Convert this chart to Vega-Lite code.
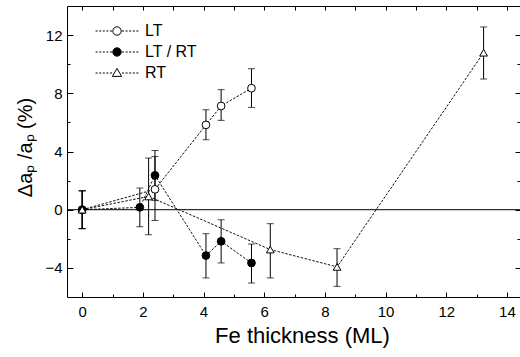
{
  "$schema": "https://vega.github.io/schema/vega-lite/v6.json",
  "width": 453,
  "height": 291,
  "autosize": {"type": "none"},
  "padding": {"left": 67, "top": 6, "right": 0, "bottom": 60},
  "config": {
    "view": {"stroke": "black", "strokeWidth": 1},
    "font": "Liberation Sans",
    "axis": {
      "domain": false, "grid": false, "tickColor": "black", "tickWidth": 1,
      "labelColor": "black", "titleColor": "black",
      "labelFont": "Liberation Sans", "titleFont": "Liberation Sans",
      "labelFontSize": 15, "titleFontSize": 22, "titleFontWeight": "normal"
    }
  },
  "data": {
    "values": [
      {"s": "LT", "x": 0, "y": 0, "lo": -1.3, "hi": 1.3},
      {"s": "LT", "x": 2.4, "y": 1.4, "lo": -0.74, "hi": 3.66},
      {"s": "LT", "x": 4.08, "y": 5.83, "lo": 4.81, "hi": 6.87},
      {"s": "LT", "x": 4.58, "y": 7.13, "lo": 6.14, "hi": 8.25},
      {"s": "LT", "x": 5.58, "y": 8.35, "lo": 7.03, "hi": 9.69},
      {"s": "LT / RT", "x": 0, "y": 0, "lo": -1.3, "hi": 1.3},
      {"s": "LT / RT", "x": 1.9, "y": 0.16, "lo": -1.17, "hi": 1.49},
      {"s": "LT / RT", "x": 2.4, "y": 2.36, "lo": 0.64, "hi": 4.07},
      {"s": "LT / RT", "x": 4.08, "y": -3.15, "lo": -4.69, "hi": -1.65},
      {"s": "LT / RT", "x": 4.58, "y": -2.17, "lo": -3.66, "hi": -0.69},
      {"s": "LT / RT", "x": 5.58, "y": -3.66, "lo": -5.04, "hi": -2.36},
      {"s": "RT", "x": 0, "y": 0, "lo": -1.3, "hi": 1.3},
      {"s": "RT", "x": 2.19, "y": 0.91, "lo": -1.72, "hi": 3.55},
      {"s": "RT", "x": 6.2, "y": -2.74, "lo": -4.69, "hi": -0.96},
      {"s": "RT", "x": 8.4, "y": -3.93, "lo": -5.27, "hi": -2.68},
      {"s": "RT", "x": 13.23, "y": 10.79, "lo": 8.98, "hi": 12.56}
    ]
  },
  "resolve": {
    "scale": {"shape": "independent", "fill": "independent"},
    "axis": {"x": "independent", "y": "independent"}
  },
  "layer": [
    {
      "data": {"values": [{"zero": 0}]},
      "mark": {"type": "rule", "color": "black", "strokeWidth": 1},
      "encoding": {
        "y": {"field": "zero", "type": "quantitative", "scale": {"domain": [-6, 14], "nice": false, "zero": false}, "axis": null}
      }
    },
    {
      "mark": {"type": "line", "strokeDash": [2.5, 1.5], "strokeWidth": 1, "color": "#111"},
      "encoding": {
        "x": {"field": "x", "type": "quantitative", "scale": {"domain": [-0.5, 14.43], "nice": false, "zero": false},
              "axis": {"orient": "bottom", "values": [0, 2, 4, 6, 8, 10, 12, 14], "tickSize": -5, "labelPadding": 12, "title": "Fe thickness (ML)", "titlePadding": 6, "titleX": 235, "format": "d"}},
        "y": {"field": "y", "type": "quantitative", "scale": {"domain": [-6, 14], "nice": false, "zero": false},
              "axis": {"orient": "left", "values": [-4, 0, 4, 8, 12], "tickSize": -6, "labelPadding": 11, "title": "Δaₚ /aₚ (%)", "titleFontSize": 20, "titlePadding": 9, "titleY": 141, "format": "d"}},
        "detail": {"field": "s"}
      }
    },
    {
      "mark": {"type": "errorbar", "color": "black", "thickness": 1, "ticks": {"size": 7, "color": "black"}, "rule": {"color": "black"}},
      "encoding": {
        "x": {"field": "x", "type": "quantitative", "axis": null},
        "y": {"field": "lo", "type": "quantitative", "axis": null, "title": null},
        "y2": {"field": "hi"}
      }
    },
    {
      "mark": {"type": "point", "filled": true, "stroke": "black", "strokeWidth": 1, "size": 60, "opacity": 1},
      "encoding": {
        "x": {"field": "x", "type": "quantitative",
              "axis": {"orient": "top", "values": [0,1,2,3,4,5,6,7,8,9,10,11,12,13,14], "tickSize": -4, "labels": false, "title": null}},
        "y": {"field": "y", "type": "quantitative",
              "axis": {"orient": "right", "values": [-4, 0, 4, 8, 12], "tickSize": -5, "labels": false, "title": null}},
        "shape": {"field": "s", "type": "nominal", "scale": {"domain": ["LT", "LT / RT", "RT"], "range": ["circle", "circle", "triangle-up"]}, "legend": null},
        "fill": {"field": "s", "type": "nominal", "scale": {"domain": ["LT", "LT / RT", "RT"], "range": ["white", "black", "white"]}, "legend": null}
      }
    },
    {
      "mark": {"type": "point", "filled": true, "stroke": "black", "strokeWidth": 1, "opacity": 0},
      "encoding": {
        "x": {"field": "x", "type": "quantitative",
              "axis": {"orient": "bottom", "values": [1,3,5,7,9,11,13], "tickSize": -3, "labels": false, "title": null}},
        "y": {"field": "y", "type": "quantitative",
              "axis": {"orient": "left", "values": [-2, 2, 6, 10], "tickSize": -3, "labels": false, "title": null}},
        "shape": {"field": "s", "type": "nominal",
                  "scale": {"domain": ["LT", "LT / RT", "RT"], "range": [
                    "M-5.35,0H-4.85M-4.45,0H-3.95M-3.55,0H-3.05M-2.65,0H-2.15M-1.75,0H-1.25M1.25,0H1.75M2.15,0H2.65M3.05,0H3.55M3.95,0H4.45M4.85,0H5.35M1.05,0C1.05,0.58,0.58,1.05,0,1.05C-0.58,1.05,-1.05,0.58,-1.05,0C-1.05,-0.58,-0.58,-1.05,0,-1.05C0.58,-1.05,1.05,-0.58,1.05,0Z",
                    "M-5.35,0H-4.85M-4.45,0H-3.95M-3.55,0H-3.05M-2.65,0H-2.15M-1.75,0H-1.25M1.25,0H1.75M2.15,0H2.65M3.05,0H3.55M3.95,0H4.45M4.85,0H5.35M1.05,0C1.05,0.58,0.58,1.05,0,1.05C-0.58,1.05,-1.05,0.58,-1.05,0C-1.05,-0.58,-0.58,-1.05,0,-1.05C0.58,-1.05,1.05,-0.58,1.05,0Z",
                    "M-5.35,0H-4.85M-4.45,0H-3.95M-3.55,0H-3.05M-2.65,0H-2.15M-1.75,0H-1.25M1.25,0H1.75M2.15,0H2.65M3.05,0H3.55M3.95,0H4.45M4.85,0H5.35M0,-1.15L1.15,0.85L-1.15,0.85Z"
                  ]},
                  "legend": {"orient": "none", "legendX": 42, "legendY": 17, "title": null, "symbolSize": 64, "symbolStrokeColor": "black", "symbolStrokeWidth": 1, "symbolOpacity": 1, "labelFont": "Liberation Sans", "labelFontSize": 16, "labelColor": "black", "labelOffset": 20, "rowPadding": 5, "padding": 0,
                             "encode": {"symbols": {"update": {"stroke": {"value": "black"}, "strokeWidth": {"value": 1}, "opacity": {"value": 1}}}}}},
        "fill": {"field": "s", "type": "nominal", "scale": {"domain": ["LT", "LT / RT", "RT"], "range": ["white", "black", "white"]},
                 "legend": {"orient": "none", "legendX": 42, "legendY": 17, "title": null, "symbolSize": 64, "symbolStrokeColor": "black", "symbolStrokeWidth": 1, "symbolOpacity": 1, "labelFont": "Liberation Sans", "labelFontSize": 16, "labelColor": "black", "labelOffset": 20, "rowPadding": 5, "padding": 0,
                            "encode": {"symbols": {"update": {"stroke": {"value": "black"}, "strokeWidth": {"value": 1}, "opacity": {"value": 1}}}}}}
      }
    },
    {
      "mark": {"type": "point", "opacity": 0},
      "encoding": {
        "x": {"field": "x", "type": "quantitative", "axis": null},
        "y": {"field": "y", "type": "quantitative",
              "axis": {"orient": "right", "values": [-2, 2, 6, 10], "tickSize": -3, "labels": false, "title": null}}
      }
    }
  ]
}
